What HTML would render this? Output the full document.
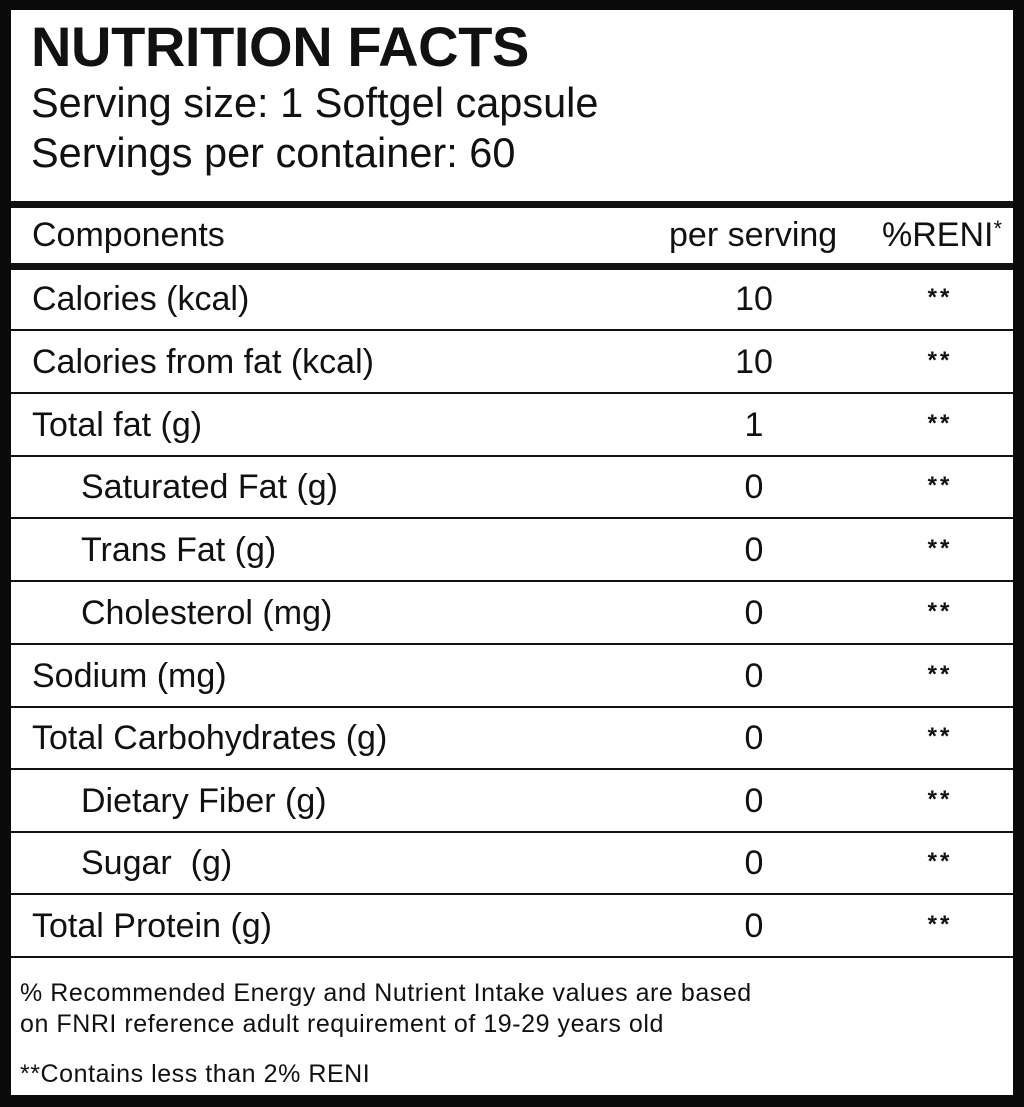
<!DOCTYPE html>
<html>
<head>
<meta charset="utf-8">
<style>
  html, body { margin:0; padding:0; }
  body { width:1024px; height:1107px; position:relative; background:#0a0a0a; overflow:hidden;
         font-family:"Liberation Sans", Arial, Helvetica, sans-serif; color:#111; }
  .panel { position:absolute; left:11px; top:10px; width:1002px; height:1085px; background:#fff; }
  .t { position:absolute; white-space:pre; line-height:1; }
  .hl { position:absolute; left:11px; width:1002px; background:#111; }
  .lbl { font-size:34px; }
  .num { font-size:34px; width:108px; left:700px; text-align:center; }
  .st { font-size:24px; width:80px; left:900px; text-align:center; letter-spacing:3px; font-weight:bold; }
  .ft { font-size:25px; letter-spacing:0.55px; left:20px; }
</style>
</head>
<body>
<div class="panel"></div>

<div class="t" style="left:31px; top:19px; font-size:56px; font-weight:bold; letter-spacing:-0.4px;">NUTRITION FACTS</div>
<div class="t" style="left:31px; top:82px; font-size:41.5px;">Serving size: 1 Softgel capsule</div>
<div class="t" style="left:31px; top:132px; font-size:41.5px;">Servings per container: 60</div>

<div class="hl" style="top:201px; height:7px;"></div>
<div class="t lbl" style="left:32px; top:218px;">Components</div>
<div class="t lbl" style="left:669px; top:218px;">per serving</div>
<div class="t lbl" style="left:882px; top:218px;">%RENI<span style="font-size:22px; vertical-align:top; position:relative; top:0px;">*</span></div>
<div class="hl" style="top:263px; height:7px;"></div>

<!-- rows -->
<div class="t lbl" style="left:32px; top:282px;">Calories (kcal)</div>
<div class="t num" style="top:282px;">10</div>
<div class="t st" style="top:286px;">**</div>
<div class="hl" style="top:329px; height:2px;"></div>

<div class="t lbl" style="left:32px; top:345px;">Calories from fat (kcal)</div>
<div class="t num" style="top:345px;">10</div>
<div class="t st" style="top:349px;">**</div>
<div class="hl" style="top:392px; height:2px;"></div>

<div class="t lbl" style="left:32px; top:408px;">Total fat (g)</div>
<div class="t num" style="top:408px;">1</div>
<div class="t st" style="top:412px;">**</div>
<div class="hl" style="top:455px; height:2px;"></div>

<div class="t lbl" style="left:81px; top:470px;">Saturated Fat (g)</div>
<div class="t num" style="top:470px;">0</div>
<div class="t st" style="top:474px;">**</div>
<div class="hl" style="top:517px; height:2px;"></div>

<div class="t lbl" style="left:81px; top:533px;">Trans Fat (g)</div>
<div class="t num" style="top:533px;">0</div>
<div class="t st" style="top:537px;">**</div>
<div class="hl" style="top:580px; height:2px;"></div>

<div class="t lbl" style="left:81px; top:596px;">Cholesterol (mg)</div>
<div class="t num" style="top:596px;">0</div>
<div class="t st" style="top:600px;">**</div>
<div class="hl" style="top:643px; height:2px;"></div>

<div class="t lbl" style="left:32px; top:659px;">Sodium (mg)</div>
<div class="t num" style="top:659px;">0</div>
<div class="t st" style="top:663px;">**</div>
<div class="hl" style="top:706px; height:2px;"></div>

<div class="t lbl" style="left:32px; top:721px;">Total Carbohydrates (g)</div>
<div class="t num" style="top:721px;">0</div>
<div class="t st" style="top:725px;">**</div>
<div class="hl" style="top:768px; height:2px;"></div>

<div class="t lbl" style="left:81px; top:784px;">Dietary Fiber (g)</div>
<div class="t num" style="top:784px;">0</div>
<div class="t st" style="top:788px;">**</div>
<div class="hl" style="top:831px; height:2px;"></div>

<div class="t lbl" style="left:81px; top:846px;">Sugar&nbsp; (g)</div>
<div class="t num" style="top:846px;">0</div>
<div class="t st" style="top:850px;">**</div>
<div class="hl" style="top:893px; height:2px;"></div>

<div class="t lbl" style="left:32px; top:909px;">Total Protein (g)</div>
<div class="t num" style="top:909px;">0</div>
<div class="t st" style="top:913px;">**</div>
<div class="hl" style="top:956px; height:2px;"></div>

<!-- footer -->
<div class="t ft" style="top:981px;">% Recommended Energy and Nutrient Intake values are based</div>
<div class="t ft" style="top:1012px;">on FNRI reference adult requirement of 19-29 years old</div>
<div class="t ft" style="top:1062px;">**Contains less than 2% RENI</div>
</body>
</html>
